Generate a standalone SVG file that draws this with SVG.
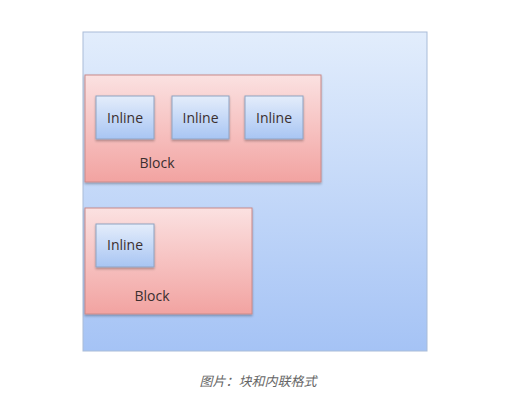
<svg xmlns="http://www.w3.org/2000/svg" width="517" height="419" viewBox="0 0 517 419">
<defs>
<linearGradient id="gOuter" x1="0" y1="0" x2="0" y2="1"><stop offset="0" stop-color="#e2edfc"/><stop offset="1" stop-color="#a5c3f5"/></linearGradient>
<linearGradient id="gBlock" x1="0" y1="0" x2="0" y2="1"><stop offset="0" stop-color="#fbe1e1"/><stop offset="1" stop-color="#f2a3a1"/></linearGradient>
<linearGradient id="gInline" x1="0" y1="0" x2="0" y2="1"><stop offset="0" stop-color="#e4edfb"/><stop offset="1" stop-color="#a8c5f3"/></linearGradient>
<filter id="sh" x="-10%" y="-10%" width="120%" height="130%"><feDropShadow dx="0" dy="1.5" stdDeviation="1" flood-color="#000" flood-opacity="0.3"/></filter>
</defs>
<style>
.outer{fill:url(#gOuter);stroke:#a9bcd8;stroke-width:1}
.block{fill:url(#gBlock);stroke:#c98a8a;stroke-width:1;filter:url(#sh)}
.inline{fill:url(#gInline);stroke:#8fa3c2;stroke-width:1;filter:url(#sh)}
.t{font-family:"Open Sans","Liberation Sans",sans-serif;font-size:14px;fill:#3b2f2f;text-anchor:middle}
.cap{font-family:"Liberation Sans","Noto Sans CJK SC",sans-serif;font-size:13px;font-style:italic;fill:#666;text-anchor:middle}
</style>
<rect x="0" y="0" width="517" height="419" fill="#fff"/>
<g id="container"><rect class="outer" x="83" y="32" width="344" height="319"/></g>
<g id="block1">
<rect class="block" x="85" y="75" width="236" height="107"/>
<text class="t" x="157" y="168">Block</text>
</g>
<g id="inline1"><rect class="inline" x="96" y="96" width="58" height="43"/><text class="t" x="125" y="123">Inline</text></g>
<g id="inline2"><rect class="inline" x="172" y="96" width="57" height="43"/><text class="t" x="200.5" y="123">Inline</text></g>
<g id="inline3"><rect class="inline" x="245" y="96" width="58" height="43"/><text class="t" x="274" y="123">Inline</text></g>
<g id="block2">
<rect class="block" x="85" y="208" width="167" height="106"/>
<text class="t" x="152" y="301">Block</text>
</g>
<g id="inline4"><rect class="inline" x="96" y="224" width="58" height="43"/><text class="t" x="125" y="250">Inline</text></g>
<g id="connectors"></g>
<text class="cap" x="258" y="386">图片：块和内联格式</text>
</svg>
